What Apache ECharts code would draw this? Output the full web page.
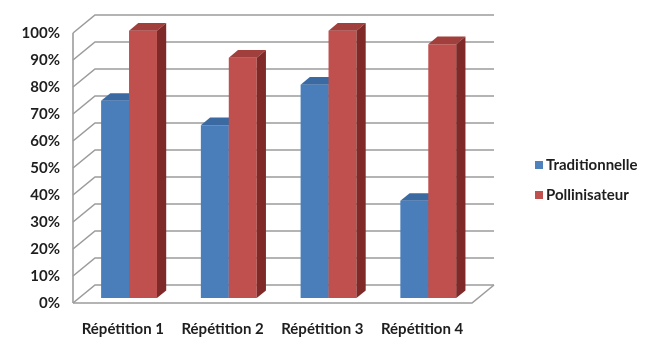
<!DOCTYPE html>
<html>
<head>
<meta charset="utf-8">
<script src="https://cdn.jsdelivr.net/npm/echarts@6/dist/echarts.min.js"></script>
<style>
  html, body { margin: 0; padding: 0; background: #ffffff; }
  #chart { width: 659px; height: 340px; }
</style>
</head>
<body>
<div id="chart"></div>
<script>
// Chart data
const categories = ['Répétition 1', 'Répétition 2', 'Répétition 3', 'Répétition 4'];
const traditionnelle = [73, 64, 79, 36];
const pollinisateur = [99, 89, 99, 94];
const yTicks = [0, 10, 20, 30, 40, 50, 60, 70, 80, 90, 100];

// Pseudo-3D depth of the plot box (pixels) and bar placement inside that depth
const DX = 22, DY = -18;
const F0 = 0.28, F1 = 0.70;
const BAR_RATIO = 0.28;

const FONT = 'Lato, "Open Sans", sans-serif';
const TEXT_COLOR = '#1e1e1e';
const GRID_COLOR = '#9c9c9c';

function wallRenderer(params, api) {
  const cs = params.coordSys;
  const v = api.value(1);
  const y = api.coord([0, v])[1];
  const x0 = cs.x, x1 = cs.x + cs.width;
  const style = { stroke: GRID_COLOR, lineWidth: 1.6, fill: null };
  const children = [{
    type: 'polyline',
    shape: { points: [[x0, y], [x0 + DX, y + DY], [x1 + DX, y + DY]] },
    style: style
  }];
  if (v === yTicks[0]) {
    // floor front edge and right side edge
    children.push({
      type: 'polyline',
      shape: { points: [[x0, y], [x1, y], [x1 + DX, y + DY]] },
      style: style
    });
  }
  if (v === yTicks[yTicks.length - 1]) {
    // front edge of the side wall
    children.push({
      type: 'line',
      shape: { x1: x0, y1: api.coord([0, yTicks[0]])[1], x2: x0, y2: y },
      style: style
    });
  }
  return { type: 'group', children: children };
}

function barRenderer(slot, front, top, side) {
  return function (params, api) {
    const i = api.value(0), v = api.value(1);
    const base = api.coord([i, 0]);
    const peak = api.coord([i, v]);
    const band = api.size([1, 0])[0];
    const w = band * BAR_RATIO;
    const fx = base[0] + (slot === 0 ? -w : 0) + DX * F0;
    const yb = base[1] + DY * F0;
    const yt = peak[1] + DY * F0;
    const ddx = DX * (F1 - F0), ddy = DY * (F1 - F0);
    return {
      type: 'group',
      children: [
        { type: 'rect', shape: { x: fx, y: yt, width: w, height: yb - yt }, style: { fill: front } },
        { type: 'polygon', shape: { points: [[fx, yt], [fx + ddx, yt + ddy], [fx + w + ddx, yt + ddy], [fx + w, yt]] }, style: { fill: top } },
        { type: 'polygon', shape: { points: [[fx + w, yt], [fx + w + ddx, yt + ddy], [fx + w + ddx, yb + ddy], [fx + w, yb]] }, style: { fill: side } }
      ]
    };
  };
}

const chart = echarts.init(document.getElementById('chart'), null, { renderer: 'canvas' });
chart.setOption({
  animation: false,
  backgroundColor: '#ffffff',
  grid: { left: 73, right: 187, top: 33, bottom: 37, containLabel: false },
  legend: {
    data: ['Traditionnelle', 'Pollinisateur'],
    orient: 'vertical',
    left: 530,
    top: 151,
    icon: 'rect',
    itemWidth: 8,
    itemHeight: 8,
    itemGap: 12,
    selectedMode: false,
    textStyle: { fontFamily: FONT, fontWeight: 'bold', fontSize: 15, color: TEXT_COLOR, lineHeight: 18, padding: [0, 0, 0, -2] }
  },
  xAxis: {
    type: 'category',
    data: categories,
    axisLine: { show: false },
    axisTick: { show: false },
    axisLabel: { interval: 0, hideOverlap: false, margin: 19, fontFamily: FONT, fontWeight: 'bold', fontSize: 15, color: TEXT_COLOR }
  },
  yAxis: {
    type: 'value',
    min: 0,
    max: 100,
    interval: 10,
    splitLine: { show: false },
    axisLine: { show: false },
    axisTick: { show: false },
    axisLabel: { margin: 13, formatter: '{value}%', fontFamily: FONT, fontWeight: 'bold', fontSize: 15, color: TEXT_COLOR }
  },
  series: [
    {
      name: 'walls',
      type: 'custom',
      silent: true,
      z: 1,
      renderItem: wallRenderer,
      data: yTicks.map(v => [0, v]),
      clip: false
    },
    {
      name: 'Traditionnelle',
      type: 'custom',
      z: 2,
      itemStyle: { color: '#4f81bd' },
      renderItem: barRenderer(0, '#4a7ebb', '#3b6aa3', '#2e5487'),
      data: traditionnelle.map((v, i) => [i, v]),
      clip: false
    },
    {
      name: 'Pollinisateur',
      type: 'custom',
      z: 3,
      itemStyle: { color: '#c0504d' },
      renderItem: barRenderer(1, '#c0504d', '#a13f3c', '#7f2a28'),
      data: pollinisateur.map((v, i) => [i, v]),
      clip: false
    }
  ]
});
</script>
</body>
</html>
